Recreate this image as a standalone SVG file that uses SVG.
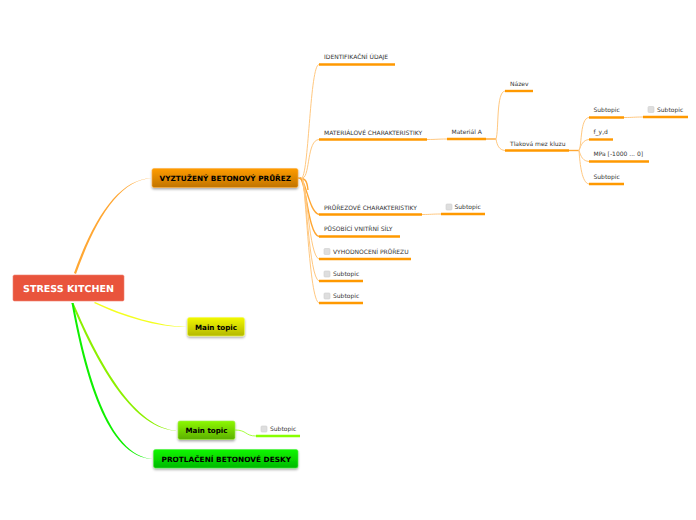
<svg xmlns="http://www.w3.org/2000/svg" width="696" height="520" viewBox="0 0 696 520">
<style>
text{font-family:"DejaVu Sans",sans-serif;text-rendering:geometricPrecision}
.t{font-size:7.250px;font-weight:bold;fill:#000;text-anchor:start}
.s{font-size:6px;fill:#333}
.u{stroke:#ff9900;stroke-width:2.4;fill:none}
.c{stroke:#ffc880;stroke-width:1;fill:none}
.cb{stroke:#ffa733;stroke-width:1.4;fill:none}
.b{fill:#dedede;stroke:#cfcfcf;stroke-width:.6}
.n{filter:url(#sh);stroke-width:.6}
</style>
<defs>
<linearGradient id="go" x1="0" y1="0" x2="0" y2="1"><stop offset="0" stop-color="#ff9c00"/><stop offset="1" stop-color="#c07400"/></linearGradient>
<linearGradient id="gy" x1="0" y1="0" x2="0" y2="1"><stop offset="0" stop-color="#f2f800"/><stop offset="1" stop-color="#b4b800"/></linearGradient>
<linearGradient id="gl" x1="0" y1="0" x2="0" y2="1"><stop offset="0" stop-color="#8cf800"/><stop offset="1" stop-color="#5cb000"/></linearGradient>
<linearGradient id="gg" x1="0" y1="0" x2="0" y2="1"><stop offset="0" stop-color="#10f800"/><stop offset="1" stop-color="#00b800"/></linearGradient>
<filter id="sh" x="-10%" y="-20%" width="120%" height="150%"><feDropShadow dx="0" dy="1.5" stdDeviation="1" flood-color="#000" flood-opacity=".35"/></filter>
</defs>
<g id="connectors">
<path d="M74 273C95 215 120 179 152 178C120 180 97 216 76 274Z" fill="#ffa733"/>
<path d="M95 302C125 316 160 326 187 327C160 327.700 124 317.500 94 303Z" fill="#f4ff20"/>
<path d="M73.500 303C100 365 135 428 178 431C134 429.800 98 367 71.500 303Z" fill="#8cf000"/>
<path d="M73.500 303C86 370 108 456 153 459C106 457.800 84 371 71.500 303Z" fill="#10f000"/>
<path class="c" style="stroke:#a8ff40" d="M235 430C247 430 245 436 256 436"/>
<path class="cb" d="M298 178C305 178 307 180 308 190"/>
<path class="c" d="M302 178C309 170 310 65 319 64.500"/>
<path class="c" d="M303 178C310 175 307 140 319 139.500"/>
<path class="cb" d="M300 178C306 180 309 212 319 214.500"/>
<path class="cb" d="M300 178C306 180 308 234 319 236.500"/>
<path class="c" d="M302 178C307 185 309 256 319 259"/>
<path class="c" d="M302 178C306 185 309 278 319 281"/>
<path class="c" d="M302 178C306 185 309 300 319 303"/>
<path class="c" d="M427 139.500C437 139.500 437 139 447 139"/>
<path class="c" d="M422 214.500C432 214.500 431 214 441 214"/>
<path class="cb" d="M486 139H496"/>
<path class="c" d="M496 139C499 130 496 92 505 91"/>
<path class="c" d="M496 139C497 145 499 150 505 150.500"/>
<path class="cb" d="M569 150.500H579"/>
<path class="c" d="M579 150.500C582 145 580 118 589 117.500"/>
<path class="c" d="M579 150.500C581 145 583 140 589 139.500"/>
<path class="c" d="M579 150.500C581 157 583 161 589 161.500"/>
<path class="c" d="M579 150.500C580 165 582 183 589 184"/>
<path class="c" d="M624 117.500C634 117.500 633 117 643 117"/>
</g>
<g id="root"><rect x="13" y="275" width="111" height="26" rx="1.500" fill="#e9543c" stroke="#f08070" stroke-width=".6"/><text x="23" y="292" class="t" style="fill:#fff;font-size:9.500px" textLength="91" lengthAdjust="spacingAndGlyphs">STRESS KITCHEN</text></g>
<g id="topic1"><rect class="n" x="152" y="168.500" width="146" height="19" rx="2" fill="url(#go)" stroke="#ffb040"/><text x="159.500" y="181" class="t" textLength="131.500" lengthAdjust="spacingAndGlyphs">VYZTUŽENÝ BETONOVÝ PRŮŘEZ</text></g>
<g id="topic2"><rect class="n" x="187.500" y="317.500" width="57" height="18.500" rx="2" fill="url(#gy)" stroke="#f4ff50"/><text x="195" y="329.500" class="t" textLength="42" lengthAdjust="spacingAndGlyphs">Main topic</text></g>
<g id="topic3"><rect class="n" x="178" y="421" width="57" height="18.500" rx="2" fill="url(#gl)" stroke="#a0f040"/><text x="185.500" y="433" class="t" textLength="42" lengthAdjust="spacingAndGlyphs">Main topic</text></g>
<g id="topic4"><rect class="n" x="153.500" y="449.500" width="144.500" height="18.500" rx="2" fill="url(#gg)" stroke="#50f040"/><text x="161.500" y="462" class="t" textLength="129.500" lengthAdjust="spacingAndGlyphs">PROTLAČENÍ BETONOVÉ DESKY</text></g>
<g id="s1"><path class="u" d="M319 64.500H395"/><text x="324" y="59" class="s">IDENTIFIKAČNÍ ÚDAJE</text></g>
<g id="s2"><path class="u" d="M319 139.500H427"/><text x="324" y="135" class="s">MATERIÁLOVÉ CHARAKTERISTIKY</text></g>
<g id="s3"><path class="u" d="M447 139H486"/><text x="451.500" y="134" class="s">Materiál A</text></g>
<g id="s4"><path class="u" d="M505 91H533"/><text x="510" y="86" class="s">Název</text></g>
<g id="s5"><path class="u" d="M505 150.500H569"/><text x="510" y="146" class="s">Tlaková mez kluzu</text></g>
<g id="s6"><path class="u" d="M589 117.500H624"/><text x="593.500" y="112" class="s">Subtopic</text></g>
<g id="s7"><path class="u" d="M643 117H688"/><rect class="b" x="648" y="106.500" width="6" height="6" rx="1"/><text x="657" y="112" class="s">Subtopic</text></g>
<g id="s8"><path class="u" d="M589 139.500H613"/><text x="593.500" y="134" class="s">f_y,d</text></g>
<g id="s9"><path class="u" d="M589 161.500H649"/><text x="593.500" y="156" class="s">MPa [-1000 ... 0]</text></g>
<g id="s10"><path class="u" d="M589 184H624"/><text x="593.500" y="179" class="s">Subtopic</text></g>
<g id="s11"><path class="u" d="M319 214.500H422"/><text x="324" y="210" class="s">PRŮŘEZOVÉ CHARAKTERISTIKY</text></g>
<g id="s12"><path class="u" d="M441 214H485"/><rect class="b" x="446" y="204" width="6" height="6" rx="1"/><text x="454.500" y="209" class="s">Subtopic</text></g>
<g id="s13"><path class="u" d="M319 236.500H400"/><text x="324" y="231" class="s">PŮSOBÍCÍ VNITŘNÍ SÍLY</text></g>
<g id="s14"><path class="u" d="M319 259H411"/><rect class="b" x="324" y="248.500" width="6" height="6" rx="1"/><text x="333" y="254" class="s">VYHODNOCENÍ PRŮŘEZU</text></g>
<g id="s15"><path class="u" d="M319 281H363"/><rect class="b" x="324" y="271" width="6" height="6" rx="1"/><text x="333" y="276" class="s">Subtopic</text></g>
<g id="s16"><path class="u" d="M319 303H363"/><rect class="b" x="324" y="293" width="6" height="6" rx="1"/><text x="333" y="298" class="s">Subtopic</text></g>
<g id="s17"><path class="u" style="stroke:#88ff00" d="M256 436H300"/><rect class="b" x="261" y="426" width="6" height="6" rx="1"/><text x="270" y="431" class="s">Subtopic</text></g>
</svg>
